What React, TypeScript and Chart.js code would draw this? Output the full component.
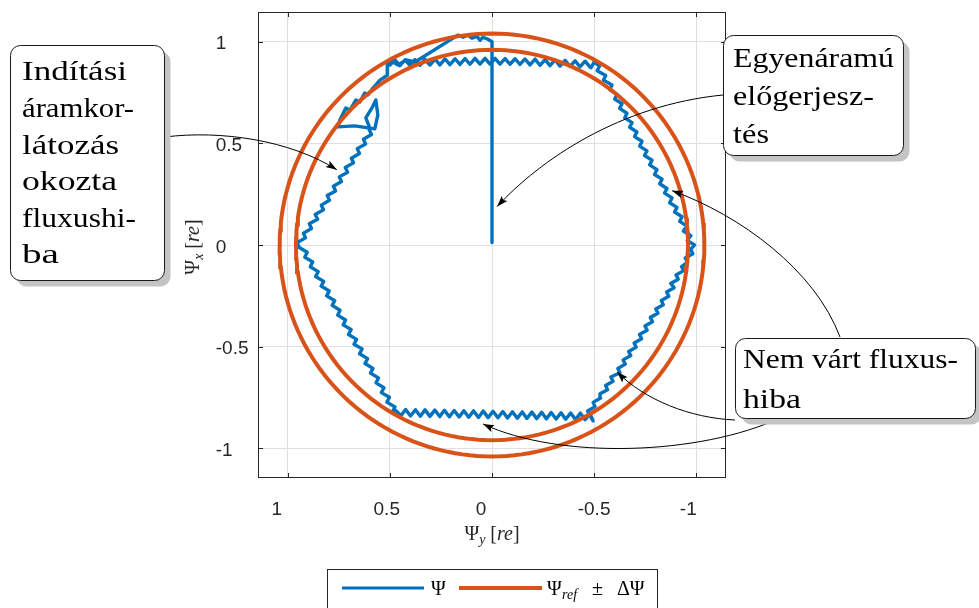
import React, { useEffect, useRef } from "react";
import { Chart, registerables } from "chart.js";

Chart.register(...registerables);

const W = 979;
const H = 608;

const BLUE = "#0072BD";
const ORANGE = "#D95319";

// axis ticks (same on both axes)
const TICK_VALUES = [-1, -0.5, 0, 0.5, 1];
const TICK_LABELS = ["-1", "-0.5", "0", "0.5", "1"];
const AXIS_LIMIT = 1.146;

// reference flux and tolerance band
const REF_RADIUS = 1.0;
const DELTA_PSI = 0.04;
const BAND_RADII = [REF_RADIUS + DELTA_PSI, REF_RADIUS - DELTA_PSI];

// measured flux trajectory, [Psi_y, Psi_x] pairs, split by section
const STARTUP: number[][] = [
  [0, 0.012], [0, 1.0], [0.02, 1.012], [0.044, 1.022], [0.059, 1.007], [0.074, 1.027],
  [0.098, 1.017], [0.118, 1.032], [0.142, 1.022], [0.167, 1.032], [0.377, 0.9],
  [0.42, 0.91], [0.46, 0.885], [0.5, 0.908], [0.513, 0.89], [0.513, 0.835], [0.55, 0.81],
  [0.583, 0.772], [0.608, 0.738], [0.623, 0.748], [0.647, 0.703], [0.667, 0.713],
  [0.696, 0.664], [0.716, 0.674], [0.745, 0.615], [0.755, 0.581], [0.672, 0.586],
  [0.574, 0.571], [0.559, 0.64], [0.569, 0.713], [0.588, 0.674], [0.618, 0.625], [0.6, 0.58],
];
const EDGE_UPPER_LEFT: number[][] = [
  [0.601, 0.566], [0.59, 0.543], [0.63, 0.52], [0.619, 0.497], [0.66, 0.474], [0.649, 0.45],
  [0.689, 0.427], [0.678, 0.404], [0.719, 0.381], [0.707, 0.358], [0.748, 0.335], [0.737, 0.312],
  [0.777, 0.289], [0.766, 0.266], [0.807, 0.243], [0.796, 0.22], [0.836, 0.196], [0.825, 0.173],
  [0.866, 0.15], [0.854, 0.127], [0.895, 0.104], [0.884, 0.081], [0.924, 0.058], [0.913, 0.035],
  [0.954, 0.012],
];
const EDGE_LOWER_LEFT: number[][] = [
  [0.944, -0.012], [0.905, -0.036], [0.917, -0.06], [0.878, -0.083], [0.89, -0.107],
  [0.851, -0.131], [0.864, -0.155], [0.824, -0.179], [0.837, -0.202], [0.797, -0.226],
  [0.81, -0.25], [0.77, -0.274], [0.783, -0.297], [0.744, -0.321], [0.756, -0.345],
  [0.717, -0.369], [0.729, -0.393], [0.69, -0.416], [0.703, -0.44], [0.663, -0.464],
  [0.676, -0.488], [0.636, -0.511], [0.649, -0.535], [0.609, -0.559], [0.622, -0.583],
  [0.583, -0.607], [0.595, -0.63], [0.556, -0.654], [0.568, -0.678], [0.529, -0.702],
  [0.542, -0.726], [0.502, -0.749], [0.515, -0.773], [0.475, -0.797], [0.488, -0.821],
];
const EDGE_BOTTOM: number[][] = [
  [0.47, -0.815], [0.446, -0.84], [0.423, -0.809], [0.399, -0.841], [0.375, -0.81],
  [0.351, -0.842], [0.328, -0.811], [0.304, -0.843], [0.28, -0.812], [0.256, -0.844],
  [0.233, -0.813], [0.209, -0.845], [0.185, -0.814], [0.161, -0.846], [0.138, -0.815],
  [0.114, -0.847], [0.09, -0.816], [0.066, -0.848], [0.043, -0.817], [0.019, -0.849],
  [-0.005, -0.818], [-0.029, -0.85], [-0.053, -0.819], [-0.076, -0.851], [-0.1, -0.82],
  [-0.124, -0.852], [-0.148, -0.821], [-0.171, -0.853], [-0.195, -0.822], [-0.219, -0.854],
  [-0.243, -0.823], [-0.266, -0.855], [-0.29, -0.824], [-0.314, -0.856], [-0.338, -0.825],
  [-0.361, -0.857], [-0.385, -0.826], [-0.409, -0.858], [-0.433, -0.827], [-0.456, -0.859],
  [-0.48, -0.83], [-0.495, -0.865],
];
const EDGE_LOWER_RIGHT: number[][] = [
  [-0.468, -0.816], [-0.505, -0.795], [-0.495, -0.774], [-0.532, -0.753], [-0.529, -0.732],
  [-0.566, -0.712], [-0.556, -0.691], [-0.593, -0.67], [-0.582, -0.649], [-0.627, -0.628],
  [-0.616, -0.607], [-0.653, -0.586], [-0.642, -0.565], [-0.68, -0.544], [-0.669, -0.524],
  [-0.706, -0.503], [-0.696, -0.482], [-0.733, -0.461], [-0.722, -0.44], [-0.76, -0.419],
  [-0.749, -0.398], [-0.786, -0.377], [-0.775, -0.356], [-0.813, -0.336], [-0.802, -0.315],
  [-0.839, -0.294], [-0.829, -0.273], [-0.866, -0.252], [-0.855, -0.231], [-0.892, -0.21],
  [-0.875, -0.189], [-0.912, -0.168], [-0.901, -0.147], [-0.939, -0.126], [-0.928, -0.106],
  [-0.957, -0.085], [-0.946, -0.064], [-0.984, -0.043], [-0.973, -0.022],
];
const EDGE_UPPER_RIGHT: number[][] = [
  [-0.992, 0.0], [-0.956, 0.023], [-0.974, 0.046], [-0.937, 0.069], [-0.955, 0.093],
  [-0.919, 0.116], [-0.931, 0.139], [-0.894, 0.162], [-0.906, 0.185], [-0.87, 0.208],
  [-0.882, 0.232], [-0.845, 0.255], [-0.857, 0.278], [-0.821, 0.301], [-0.833, 0.324],
  [-0.796, 0.347], [-0.808, 0.371], [-0.772, 0.394], [-0.784, 0.417], [-0.747, 0.44],
  [-0.759, 0.463], [-0.723, 0.486], [-0.735, 0.51], [-0.698, 0.533], [-0.71, 0.556],
  [-0.674, 0.579], [-0.686, 0.602], [-0.65, 0.625], [-0.661, 0.648], [-0.625, 0.672],
  [-0.637, 0.695], [-0.601, 0.718], [-0.612, 0.741], [-0.576, 0.764], [-0.588, 0.787],
  [-0.546, 0.811], [-0.557, 0.834], [-0.515, 0.857], [-0.527, 0.88], [-0.5, 0.9], [-0.485, 0.872],
];
const EDGE_TOP: number[][] = [
  [-0.48, 0.875], [-0.456, 0.904], [-0.431, 0.876], [-0.407, 0.906], [-0.382, 0.878],
  [-0.358, 0.908], [-0.333, 0.88], [-0.309, 0.91], [-0.284, 0.882], [-0.26, 0.912],
  [-0.235, 0.884], [-0.211, 0.914], [-0.186, 0.886], [-0.162, 0.915], [-0.137, 0.888],
  [-0.113, 0.916], [-0.088, 0.889], [-0.064, 0.917], [-0.039, 0.89], [-0.015, 0.918],
  [0.01, 0.89], [0.034, 0.918], [0.059, 0.89], [0.083, 0.918], [0.108, 0.889],
  [0.132, 0.917], [0.157, 0.888], [0.181, 0.916], [0.206, 0.887], [0.23, 0.915],
  [0.255, 0.886], [0.279, 0.914], [0.304, 0.885], [0.328, 0.913], [0.353, 0.884],
  [0.377, 0.912], [0.402, 0.883], [0.426, 0.911], [0.451, 0.882], [0.475, 0.91], [0.5, 0.885],
];

const TRACE = [
  ...STARTUP, ...EDGE_UPPER_LEFT, ...EDGE_LOWER_LEFT, ...EDGE_BOTTOM,
  ...EDGE_LOWER_RIGHT, ...EDGE_UPPER_RIGHT, ...EDGE_TOP,
];

// annotation callouts: arrow start / curve control points are page positions,
// arrow tips are data positions [Psi_y, Psi_x]
const ARROWS = [
  { start: [165, 137], c1: [220, 130], c2: [290, 140], tip: [0.76, 0.37] },
  { start: [723, 95], c1: [620, 105], c2: [540, 160], tip: [-0.025, 0.189] },
  { start: [840, 337], c1: [815, 270], c2: [740, 215], tip: [-0.882, 0.267] },
  { start: [735, 420], c1: [690, 418], c2: [645, 400], tip: [-0.613, -0.625] },
  { start: [780, 418], c1: [700, 455], c2: [560, 460], tip: [0.044, -0.88] },
];

const NOTE_1 = ["Indítási", "áramkor-", "látozás", "okozta", "fluxushi-", "ba"];
const NOTE_2 = ["Egyenáramú", "előgerjesz-", "tés"];
const NOTE_3 = ["Nem várt fluxus-", "hiba"];

const labelFor = (v: number) => {
  const i = TICK_VALUES.findIndex((t) => Math.abs(t - v) < 1e-9);
  return i >= 0 ? TICK_LABELS[i] : String(v);
};

const circlePoints = (r: number) => {
  const pts: { x: number; y: number }[] = [];
  for (let k = 0; k <= 360; k += 2) {
    const a = (k * Math.PI) / 180;
    pts.push({ x: r * Math.cos(a), y: r * Math.sin(a) });
  }
  return pts;
};

const framePlugin = {
  id: "frame",
  afterDatasetsDraw(chart: any) {
    const { ctx, chartArea: a, scales } = chart;
    const xs = scales.x;
    const ys = scales.y;
    ctx.save();
    // axes box
    ctx.strokeStyle = "#262626";
    ctx.lineWidth = 1;
    ctx.strokeRect(Math.round(a.left) + 0.5, Math.round(a.top) + 0.5, Math.round(a.right - a.left) - 1, Math.round(a.bottom - a.top) - 1);
    // inward ticks
    const TL = 5;
    ctx.beginPath();
    xs.ticks.forEach((t: any) => {
      const px = Math.round(xs.getPixelForValue(t.value)) + 0.5;
      ctx.moveTo(px, a.bottom); ctx.lineTo(px, a.bottom - TL);
      ctx.moveTo(px, a.top); ctx.lineTo(px, a.top + TL);
    });
    ys.ticks.forEach((t: any) => {
      const py = Math.round(ys.getPixelForValue(t.value)) + 0.5;
      ctx.moveTo(a.left, py); ctx.lineTo(a.left + TL, py);
      ctx.moveTo(a.right, py); ctx.lineTo(a.right - TL, py);
    });
    ctx.stroke();
    // tick labels (left-aligned inside a box as wide as the widest label)
    ctx.font = "19px 'Liberation Sans', Arial, Helvetica, sans-serif";
    ctx.fillStyle = "#262626";
    ctx.textAlign = "left";
    ctx.textBaseline = "alphabetic";
    const xl = xs.ticks.map((t: any) => labelFor(t.value));
    const wx = Math.max(...xl.map((s: string) => ctx.measureText(s).width));
    xs.ticks.forEach((t: any, i: number) => {
      ctx.fillText(xl[i], xs.getPixelForValue(t.value) - wx / 2, a.bottom + 37);
    });
    const yl = ys.ticks.map((t: any) => labelFor(t.value));
    const wy = Math.max(...yl.map((s: string) => ctx.measureText(s).width));
    ys.ticks.forEach((t: any, i: number) => {
      ctx.fillText(yl[i], a.left - 9.5 - wy, ys.getPixelForValue(t.value) + 7.5);
    });
    // callout arrows
    ctx.strokeStyle = "#000";
    ctx.fillStyle = "#000";
    ctx.lineWidth = 1;
    ARROWS.forEach((ar) => {
      const tx = xs.getPixelForValue(ar.tip[0]);
      const ty = ys.getPixelForValue(ar.tip[1]);
      ctx.beginPath();
      ctx.moveTo(ar.start[0], ar.start[1]);
      ctx.bezierCurveTo(ar.c1[0], ar.c1[1], ar.c2[0], ar.c2[1], tx, ty);
      ctx.stroke();
      const dx = tx - ar.c2[0];
      const dy = ty - ar.c2[1];
      const len = Math.hypot(dx, dy) || 1;
      const ux = dx / len, uy = dy / len;
      const hl = 11, hw = 3.8;
      ctx.beginPath();
      ctx.moveTo(tx, ty);
      ctx.lineTo(tx - ux * hl - uy * hw, ty - uy * hl + ux * hw);
      ctx.lineTo(tx - ux * hl * 0.8, ty - uy * hl * 0.8);
      ctx.lineTo(tx - ux * hl + uy * hw, ty - uy * hl - ux * hw);
      ctx.closePath();
      ctx.fill();
    });
    ctx.restore();
  },
};

const serif = "'Liberation Serif', 'Times New Roman', Times, serif";

function Callout(props: { x: number; y: number; w: number; h: number; tx: number; lines: string[]; baselines: number[]; lengths: number[] }) {
  const { x, y, w, h, tx, lines, baselines, lengths } = props;
  return (
    <g>
      <rect x={x + 6} y={y + 6} width={w} height={h} rx={10} ry={10} fill="#c4c4c4" />
      <rect x={x} y={y} width={w} height={h} rx={10} ry={10} fill="#ffffff" stroke="#1a1a1a" strokeWidth={1} />
      {lines.map((s, i) => (
        <text key={i} x={tx} y={baselines[i]} fontFamily={serif} fontSize={28} fill="#000" textLength={lengths[i]} lengthAdjust="spacingAndGlyphs">
          {s}
        </text>
      ))}
    </g>
  );
}

export default function App() {
  const ref = useRef<HTMLCanvasElement>(null);

  useEffect(() => {
    if (!ref.current) return;
    const chart = new Chart(ref.current, {
      type: "scatter",
      data: {
        datasets: [
          {
            label: "Ψ",
            data: TRACE.map((p) => ({ x: p[0], y: p[1] })),
            showLine: true,
            borderColor: BLUE,
            backgroundColor: BLUE,
            borderWidth: 3.4,
            pointRadius: 0,
            borderJoinStyle: "round",
            borderCapStyle: "round",
            order: 1,
          },
          ...BAND_RADII.map((r) => ({
            label: "Ψref ± ΔΨ",
            data: circlePoints(r),
            showLine: true,
            borderColor: ORANGE,
            backgroundColor: ORANGE,
            borderWidth: 4,
            pointRadius: 0,
            order: 0,
          })),
        ],
      } as any,
      options: {
        responsive: false,
        animation: false,
        devicePixelRatio: 1,
        layout: { padding: { left: 0, top: 12, right: 253, bottom: 0 } },
        plugins: { legend: { display: false }, tooltip: { enabled: false } },
        scales: {
          x: {
            type: "linear",
            min: -AXIS_LIMIT,
            max: AXIS_LIMIT,
            reverse: true,
            afterBuildTicks: (s: any) => { s.ticks = TICK_VALUES.map((v) => ({ value: v })); },
            afterFit: (s: any) => { s.height = 130; },
            ticks: { display: false },
            grid: { color: "#dfdfdf", lineWidth: 1, drawTicks: false },
            border: { display: false },
          },
          y: {
            type: "linear",
            min: -AXIS_LIMIT,
            max: AXIS_LIMIT,
            afterBuildTicks: (s: any) => { s.ticks = TICK_VALUES.map((v) => ({ value: v })); },
            afterFit: (s: any) => { s.width = 258; },
            ticks: { display: false },
            grid: { color: "#dfdfdf", lineWidth: 1, drawTicks: false },
            border: { display: false },
          },
        },
      } as any,
      plugins: [framePlugin],
    });
    return () => chart.destroy();
  }, []);

  return (
    <div style={{ position: "fixed", left: 0, top: 0, width: W, height: H, background: "#ffffff", overflow: "hidden" }}>
      <canvas ref={ref} width={W} height={H} style={{ position: "absolute", left: 0, top: 0, width: W, height: H }} />
      <svg width={W} height={H} style={{ position: "absolute", left: 0, top: 0, pointerEvents: "none" }}>
        {/* axis labels */}
        <text x={492} y={540} textAnchor="middle" fontFamily={serif} fontSize={20} fill="#262626">
          Ψ<tspan fontStyle="italic" fontSize={14} dy={4}>y</tspan>
          <tspan dy={-4}>{" ["}</tspan>
          <tspan fontStyle="italic">re</tspan>
          <tspan>]</tspan>
        </text>
        <text transform="translate(199,247) rotate(-90)" textAnchor="middle" fontFamily={serif} fontSize={20} fill="#262626">
          Ψ<tspan fontStyle="italic" fontSize={14} dy={4}>x</tspan>
          <tspan dy={-4}>{" ["}</tspan>
          <tspan fontStyle="italic">re</tspan>
          <tspan>]</tspan>
        </text>

        {/* legend */}
        <rect x={327.5} y={569.5} width={330} height={60} fill="#ffffff" stroke="#262626" strokeWidth={1} />
        <line x1={342} y1={588} x2={424} y2={588} stroke={BLUE} strokeWidth={3} />
        <text x={431} y={595} fontFamily={serif} fontSize={20} fill="#000">Ψ</text>
        <line x1={459} y1={588} x2={542} y2={588} stroke={ORANGE} strokeWidth={4} />
        <text y={595} fontFamily={serif} fontSize={20} fill="#000">
          <tspan x={547}>Ψ</tspan>
          <tspan x={562} dy={4} fontStyle="italic" fontSize={14}>ref</tspan>
          <tspan x={592} dy={-4}>±</tspan>
          <tspan x={617}>ΔΨ</tspan>
        </text>

        {/* callouts */}
        <Callout x={10.5} y={45.5} w={154} h={235} tx={22} lines={NOTE_1} baselines={[80, 117, 154, 190, 227, 263]} lengths={[105, 112, 97, 95, 114, 37]} />
        <Callout x={723.5} y={35.5} w={180} h={120} tx={733} lines={NOTE_2} baselines={[67, 105, 143]} lengths={[161, 141, 36]} />
        <Callout x={735.5} y={338.5} w={240} h={80} tx={743} lines={NOTE_3} baselines={[368, 408]} lengths={[215, 58]} />
      </svg>
    </div>
  );
}
